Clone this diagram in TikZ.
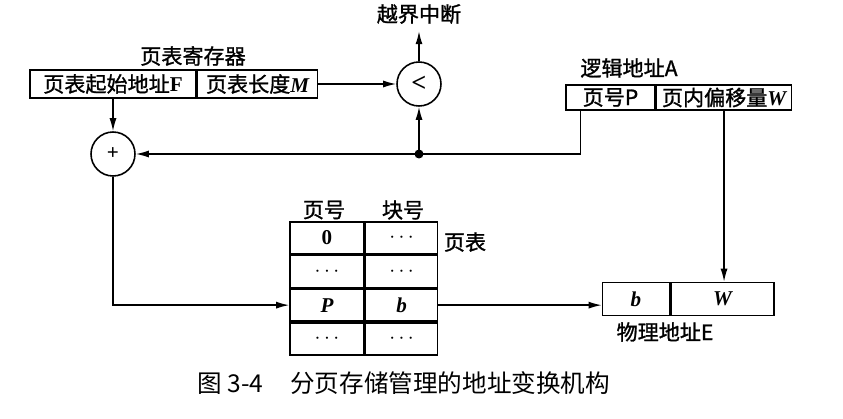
\documentclass[tikz,border=0pt]{standalone}
\usepackage{fontspec}
\setmainfont{Liberation Serif}
\newfontfamily\cjk{Noto Sans CJK SC}
\newfontfamily\cjkb[FakeBold=1.2]{Noto Sans CJK SC}
\usetikzlibrary{arrows.meta}
\newcommand{\addr}[1]{{\rmfamily\bfseries\itshape #1}}
\tikzset{
	reg/.style={draw, line width=0.9pt, inner sep=0pt, minimum height=0.56cm, font=\cjkb\fontsize{12}{14}\selectfont},
	tab/.style={draw, line width=0.9pt, inner sep=0pt, minimum height=0.64cm, font=\bfseries\fontsize{12}{14}\selectfont},
	op/.style={draw, circle, line width=0.9pt, inner sep=0pt, minimum size=0.88cm},
	lbl/.style={inner sep=0pt, font=\cjkb\fontsize{12}{14}\selectfont},
	wire/.style={line width=0.8pt},
	arr/.style={wire, -{Latex[length=2.6mm,width=1.4mm]}},
}

\begin{document}
\begin{tikzpicture}[x=0.02cm, y=-0.02cm]
		%%%%% START %%%%%
		\useasboundingbox (0,0) rectangle (843,419);
		
		% page table register
		\node[reg, minimum width=3.32cm] (regF) at (113,84) {页表起始地址{\rmfamily\bfseries F}};
		\node[reg, minimum width=2.4cm, anchor=west] (regM) at (regF.east) {页表长度\addr{M}};
		\node[lbl] (regT) at (193,56) {页表寄存器};
		
		\node[op, font=\bfseries\fontsize{15}{17}\selectfont] (cmp) at (419,84) {<};
		\node[lbl] (intr) at (419,14) {越界中断};
		\node[op, font=\bfseries\fontsize{12}{14}\selectfont] (plus) at (113,154) {+};
		
		% logical address
		\node[reg, minimum width=1.78cm, minimum height=0.5cm] (laP) at (610.5,97.5) {页号P};
		\node[reg, minimum width=2.7cm, minimum height=0.5cm, anchor=west] (laW) at (laP.east) {页内偏移量\addr{W}};
		\node[lbl] (laT) at (629,68) {逻辑地址A};
		
		% page table
		\node[lbl] (hdP) at (324,210) {页号};
		\node[lbl] (hdB) at (403,210) {块号};
		\node[tab, minimum width=1.48cm] (t1a) at (327,238) {0};
		\node[tab, minimum width=1.44cm, anchor=west] (t1b) at (t1a.east) {$\cdots$};
		\node[tab, minimum width=1.48cm, anchor=north] (t2a) at (t1a.south) {$\cdots$};
		\node[tab, minimum width=1.44cm, anchor=west] (t2b) at (t2a.east) {$\cdots$};
		\node[tab, minimum width=1.48cm, anchor=north] (t3a) at (t2a.south) {\addr{P}};
		\node[tab, minimum width=1.44cm, anchor=west] (t3b) at (t3a.east) {\addr{b}};
		\node[tab, minimum width=1.48cm, anchor=north] (t4a) at (t3a.south) {$\cdots$};
		\node[tab, minimum width=1.44cm, anchor=west] (t4b) at (t4a.east) {$\cdots$};
		\node[lbl] (tabT) at (465,242) {页表};
		
		% physical address
		\node[tab, minimum width=1.34cm, minimum height=0.66cm] (peb) at (636,299) {\addr{b}};
		\node[tab, minimum width=2.06cm, minimum height=0.66cm, anchor=west] (peW) at (peb.east) {\addr{W}};
		\node[lbl] (peT) at (665,332) {物理地址E};
		
		% connectors
		\draw[arr] (regM.east) -- (cmp.west);
		\draw[arr] (cmp.north) -- ([yshift=-4pt]intr.south);
		\draw[arr] (regF.south) -- (plus.north);
		\coordinate (junc) at (cmp.south |- plus.east);
		\draw[arr] ([xshift=0.3cm]laP.south west) |- (plus.east);
		\draw[arr] (junc) -- (cmp.south);
		\fill (junc) circle (0.09cm);
		\draw[arr] (plus.south) |- (t3a.west);
		\draw[arr] (t3b.east) -- (t3b.east -| peb.west);
		\draw[arr] (laW.south) -- (laW.south |- peW.north);
		
		% caption
		\node[inner sep=0pt, anchor=west, font=\cjk\fontsize{14}{16}\selectfont] (cap) at (197,383) {图 3-4\hspace{1.1em}分页存储管理的地址变换机构};
		%%%%% END %%%%%
\end{tikzpicture}
\end{document}
